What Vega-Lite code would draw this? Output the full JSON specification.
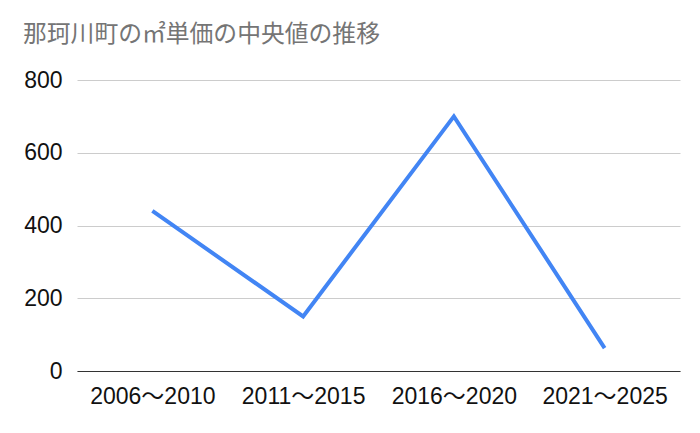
{
  "$schema": "https://vega.github.io/schema/vega-lite/v6.json",
  "width": 603,
  "height": 291,
  "autosize": "none",
  "padding": {"left": 77, "top": 80, "right": 20, "bottom": 62},
  "background": "white",
  "title": {
    "text": "那珂川町の㎡単価の中央値の推移",
    "anchor": "start",
    "frame": "group",
    "dx": -54,
    "offset": 22,
    "font": "Noto Sans CJK JP",
    "fontSize": 23.8,
    "fontWeight": "normal",
    "color": "#757575"
  },
  "config": {
    "view": {"stroke": null},
    "axis": {"labelFont": "Liberation Sans", "labelFontSize": 23, "labelColor": "#111111"}
  },
  "data": {
    "values": [
      {"period": "2006〜2010", "price": 440},
      {"period": "2011〜2015", "price": 150},
      {"period": "2016〜2020", "price": 700},
      {"period": "2021〜2025", "price": 63}
    ]
  },
  "mark": {"type": "line", "color": "#4285F4", "strokeWidth": 4},
  "encoding": {
    "x": {
      "field": "period",
      "type": "ordinal",
      "sort": null,
      "scale": {"type": "point", "padding": 0.5},
      "axis": {
        "title": null,
        "labelAngle": 0,
        "ticks": false,
        "domain": true,
        "domainColor": "#333333",
        "domainWidth": 1,
        "labelPadding": 14,
        "labelFont": "Liberation Sans, Noto Sans CJK JP"
      }
    },
    "y": {
      "field": "price",
      "type": "quantitative",
      "scale": {"domain": [0, 800]},
      "axis": {
        "title": null,
        "values": [0, 200, 400, 600, 800],
        "domain": false,
        "ticks": false,
        "gridColor": "#cccccc",
        "labelPadding": 15
      }
    }
  }
}
